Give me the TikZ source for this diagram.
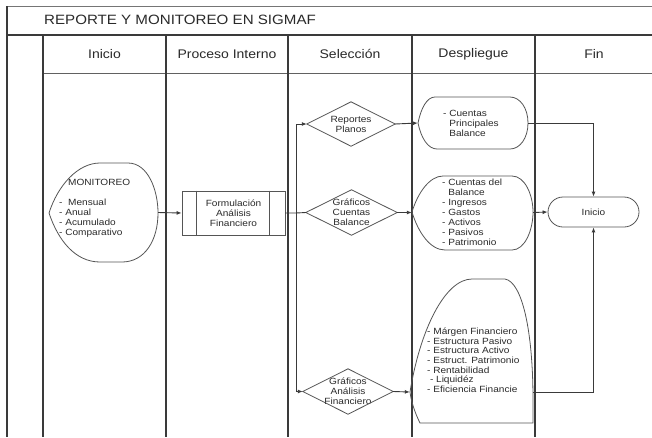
\documentclass[tikz,border=0pt]{standalone}
\usepackage{fontspec}
\setmainfont[FakeStretch=1.12]{Liberation Sans}
\usetikzlibrary{arrows.meta}
\definecolor{ln}{HTML}{3A3A3A}
\definecolor{sh}{HTML}{555555}
\definecolor{tx}{HTML}{2A2A2A}
\begin{document}
\begin{tikzpicture}[x=1pt,y=-1pt,
  lane/.style={draw=ln,line width=1.1pt},
  shp/.style={draw=sh,line width=0.8pt},
  conn/.style={draw=ln,line width=0.9pt},
  arr/.style={conn,-{Latex[length=5pt,width=4pt]}},
  small/.style={font=\fontsize{9}{10}\selectfont,text=tx,inner sep=0pt},
  hdr/.style={font=\fontsize{12.5}{15}\selectfont,text=tx},
  box/.style={inner sep=0pt,minimum width=#1},
  lst/.style={small,align=left,anchor=north west},
]
\useasboundingbox (0,0) rectangle (652,437);
\fill[white] (0,0) rectangle (652,437);

% frame and lanes
\draw[draw=ln!70,line width=0.8pt] (7,6) -- (652,6);
\draw[lane] (7,6) -- (7,437);
\draw[draw=ln,line width=1.6pt] (7,35) -- (652,35);
\draw[draw=ln!80,line width=0.9pt] (43,73) -- (652,73);
\foreach \x in {43,166,288,412,535} \draw[lane] (\x,35) -- (\x,437);

\node[anchor=west,font=\fontsize{13.5}{16}\selectfont,text=tx,inner sep=0pt] (title) at (44,20) {REPORTE Y MONITOREO EN SIGMAF};
\node[hdr] (h1) at (104.5,54) {Inicio};
\node[hdr] (h2) at (227,54) {Proceso Interno};
\node[hdr] (h3) at (350,54) {Selección};
\node[hdr] (h4) at (473.5,54) {Despliegue};
\node[hdr] (h5) at (594,54) {Fin};

% MONITOREO (display shape)
\node[box=109pt,minimum height=99pt] (mon) at (103.5,212.5) {};
\draw[shp] (49,213) .. controls (58,185) and (78,163) .. (100,163) -- (128,163)
  .. controls (148,163) and (158,190) .. (158,213)
  .. controls (158,240) and (145,262) .. (122,262) -- (100,262)
  .. controls (75,262) and (58,240) .. (49,213) -- cycle;
\node[lst] (mont) at (59,178.8) {\hspace*{9pt}MONITOREO\\[10pt]-\ \ Mensual\\- Anual\\- Acumulado\\- Comparativo};

% Formulacion (predefined process)
\node[shp,box=103pt,minimum height=44pt,small,align=center] (fa) at (233.5,213) {Formulación\\Análisis\\Financiero};
\draw[shp] ([xshift=15pt]fa.north west) -- ([xshift=15pt]fa.south west);
\draw[shp] ([xshift=-16pt]fa.north east) -- ([xshift=-16pt]fa.south east);

% diamonds
\node[box=88pt,minimum height=44pt,small,align=center] (rp) at (351,124) {Reportes\\Planos};
\node[box=91pt,minimum height=45pt,small,align=center] (gc) at (351.5,212.5) {Gráficos\\Cuentas\\Balance};
\node[box=90pt,minimum height=45pt,small,align=center] (ga) at (348,391.5) {Gráficos\\Análisis\\Financiero};
\foreach \d in {rp,gc,ga}
  \draw[shp] (\d.west) -- (\d.north) -- (\d.east) -- (\d.south) -- cycle;

% Cuentas Principales
\node[box=110pt,minimum height=52pt] (cp) at (473,123) {};
\draw[shp] (418,123) .. controls (421,108) and (427,97) .. (435,97) -- (510,97)
  .. controls (520,97) and (528,108) .. (528,123)
  .. controls (528,138) and (520,149) .. (510,149) -- (437,149)
  .. controls (428,149) and (421,138) .. (418,123) -- cycle;
\node[lst] (cpt) at (443,109.6) {- Cuentas\\\phantom{- }Principales\\\phantom{- }Balance};

% Cuentas del Balance
\node[box=121pt,minimum height=74pt] (cb) at (472.5,212.5) {};
\draw[shp] (412,212) .. controls (418,192) and (430,176) .. (443,176) -- (512,176)
  .. controls (525,176) and (533,195) .. (533,212)
  .. controls (533,230) and (525,250) .. (512,250) -- (445,250)
  .. controls (430,250) and (418,232) .. (412,212) -- cycle;
\node[lst] (cbt) at (442,178.6) {- Cuentas del\\\phantom{- }Balance\\- Ingresos\\- Gastos\\- Activos\\- Pasivos\\- Patrimonio};

% Analisis financiero display
\node[box=123pt,minimum height=62pt] (an) at (471.5,392) {};
\draw[shp] (410,392) .. controls (420,330) and (445,279) .. (472,279) -- (505,279)
  .. controls (522,282) and (533,330) .. (533,400) -- (533,423) -- (420,423)
  .. controls (414,411) and (411,400) .. (410,392) -- cycle;
\node[lst,font=\fontsize{9}{9.7}\selectfont] (ant) at (427,327.6) {- Márgen Financiero\\- Estructura Pasivo\\- Estructura Activo\\- Estruct. Patrimonio\\- Rentabilidad\\\ - Liquidéz\\- Eficiencia Financie};

% Fin terminal
\node[shp,rounded corners=15pt,box=91pt,minimum height=30pt,small] (ini) at (593.5,212) {Inicio};

% connectors
\coordinate (br) at (296,213);
\draw[conn] (fa.east) -- (br) -- (gc.west);
\draw[arr] (br) |- (rp.west);
\draw[arr] (br) |- (ga.west);
\draw[arr] (mon.east) -- (fa.west);
\draw[arr] (rp.east) -- (cp.west);
\draw[arr] (gc.east) -- (cb.west);
\draw[arr] (ga.east) -- (an.west);
\draw[arr] (cp.east) -| (ini.north);
\draw[arr] (cb.east) -- (ini.west);
\draw[arr] (an.east) -| (ini.south);
\end{tikzpicture}
\end{document}
